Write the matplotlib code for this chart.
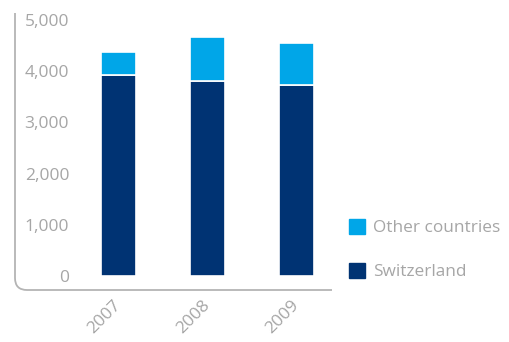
import matplotlib.pyplot as plt
from matplotlib.path import Path
from matplotlib.patches import PathPatch, Patch
from matplotlib.transforms import IdentityTransform

years = ["2007", "2008", "2009"]
switzerland = [3930, 3815, 3735]
other = [450, 860, 810]
yticks = [0, 1000, 2000, 3000, 4000, 5000]

NAVY = "#003373"
CYAN = "#00a6e8"
GREY = "#a6a6a6"
FONT = "Open Sans"

fig = plt.figure(figsize=(5.1, 3.42), dpi=100)
ax = fig.add_axes([15 / 510, 53 / 342, 317 / 510, 276 / 342])

x = range(len(years))
ax.bar(x, switzerland, width=0.39, color=NAVY, edgecolor="white", linewidth=1.2)
ax.bar(x, other, width=0.39, bottom=switzerland, color=CYAN,
       edgecolor="white", linewidth=1.2)

ax.set_xlim(-1.163, 2.399)
ax.set_ylim(-254, 5137)

ax.set_yticks(yticks)
ax.set_yticklabels([f"{v:,}" for v in yticks])
ax.tick_params(axis="y", length=0, pad=-39, labelsize=12.5, labelcolor=GREY)
for lab in ax.get_yticklabels():
    lab.set_fontfamily(FONT)

ax.set_xticks(list(x))
ax.set_xticklabels(years, rotation=45, ha="right", va="center",
                   rotation_mode="anchor", fontfamily=FONT)
ax.tick_params(axis="x", length=0, pad=10, labelsize=12.5, labelcolor=GREY)

for s in ax.spines.values():
    s.set_visible(False)

# axis line with a rounded lower-left corner, drawn in pixels
r = 12
verts = [(15, 342 - 13), (15, 52 + r), (15, 52), (15 + r, 52), (332, 52)]
codes = [Path.MOVETO, Path.LINETO, Path.CURVE3, Path.CURVE3, Path.LINETO]
fig.add_artist(PathPatch(Path(verts, codes), fill=False, edgecolor="#b4b4b4",
                         linewidth=1.3, transform=IdentityTransform()))

handles = [Patch(color=CYAN, label="Other countries"),
           Patch(color=NAVY, label="Switzerland")]
leg = fig.legend(handles=handles, loc="upper left",
                 bbox_to_anchor=(349 / 510, 1 - 219 / 342), borderpad=0,
                 borderaxespad=0, frameon=False, handlelength=0.95,
                 handleheight=0.95, handletextpad=0.45, labelspacing=1.55,
                 prop={"family": FONT, "size": 12.4})
for t in leg.get_texts():
    t.set_color(GREY)

fig.savefig("out.png", dpi=100)
